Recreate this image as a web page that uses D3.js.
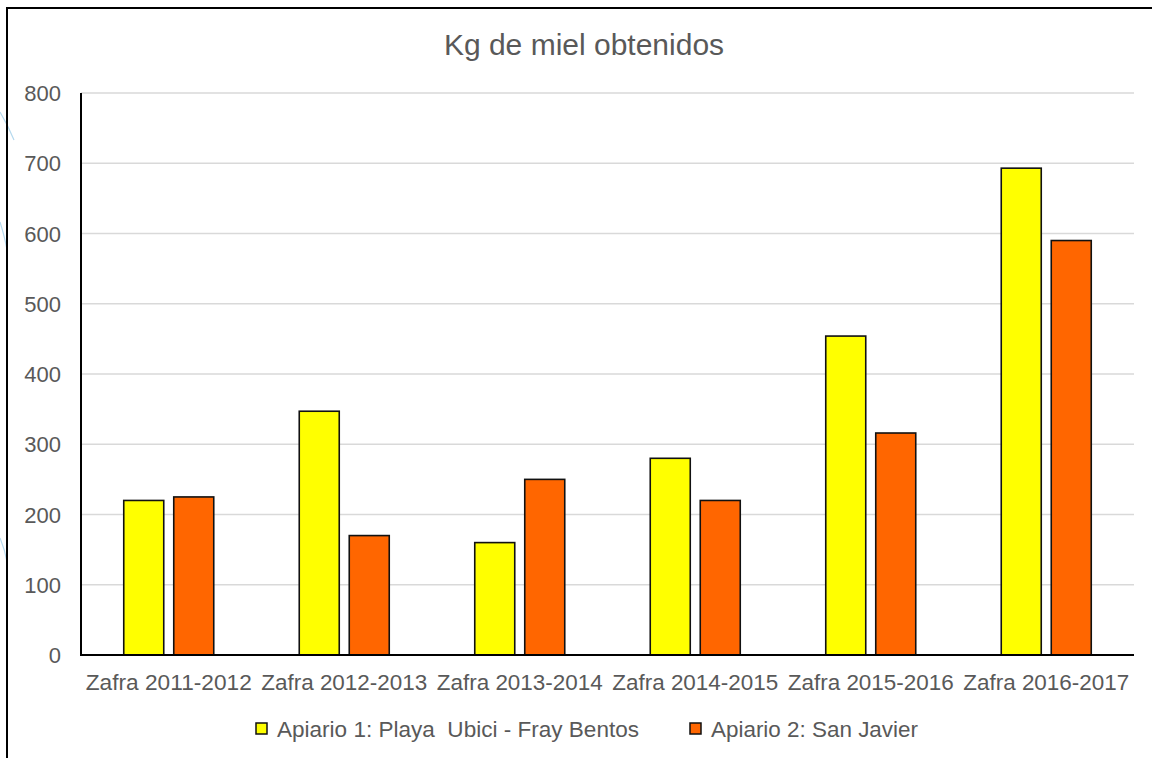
<!DOCTYPE html>
<head>
  <meta charset="utf-8">
  <script src="https://cdn.jsdelivr.net/npm/d3@7"></script>
  <style>
    body { margin: 0; background: #fff; }
    text { font-family: "Liberation Sans", Arial, sans-serif; fill: #595959; }
  </style>
</head>
<body>
<script>
  var categories = ["Zafra 2011-2012", "Zafra 2012-2013", "Zafra 2013-2014",
                    "Zafra 2014-2015", "Zafra 2015-2016", "Zafra 2016-2017"]
  var series = ["Apiario 1: Playa  Ubici - Fray Bentos", "Apiario 2: San Javier"]
  var apiario1 = [220, 347, 160, 280, 454, 693]
  var apiario2 = [225, 170, 250, 220, 316, 590]
  var yTicks = [0, 100, 200, 300, 400, 500, 600, 700, 800]
  var colors = ["#ffff00", "#ff6600"]

  var W = 1152, H = 758
  var plot = {left: 81, right: 1134, top: 93, bottom: 655}

  var svg = d3.select("body").append("svg")
              .attr("width", W).attr("height", H)

  // faint decoration on the left edge
  svg.append("path")
     .attr("d", "M0,112 Q8,125 14,140 M0,222 Q5,238 7,250 M0,538 Q5,550 7,562")
     .attr("fill", "none").attr("stroke", "#b5d9ee").attr("stroke-width", 1.2)

  svg.append("rect")
     .attr("x", 7).attr("y", 8).attr("width", W + 20).attr("height", H + 20)
     .attr("fill", "none").attr("stroke", "#000").attr("stroke-width", 2)

  var y = d3.scaleLinear().domain([0, 800]).range([plot.bottom, plot.top])
  var x0 = d3.scaleBand().domain(categories).range([plot.left, plot.right])
  var x1 = d3.scaleBand().domain(series).range([0, x0.bandwidth()])
             .paddingInner(0.2).paddingOuter(0.855)

  // gridlines
  svg.append("g").selectAll("line")
     .data(yTicks.filter(function(d) { return d > 0 }))
     .enter().append("line")
     .attr("x1", plot.left).attr("x2", plot.right)
     .attr("y1", function(d) { return y(d) }).attr("y2", function(d) { return y(d) })
     .attr("stroke", "#d9d9d9").attr("stroke-width", 1.5)

  // y labels
  svg.append("g").selectAll("text")
     .data(yTicks).enter().append("text")
     .attr("x", 61).attr("y", function(d) { return y(d) + 8 })
     .attr("text-anchor", "end").style("font-size", "22px")
     .text(function(d) { return d })

  // bars
  var rows = categories.map(function(c, i) { return {cat: c, vals: [apiario1[i], apiario2[i]]} })
  var groups = svg.append("g").selectAll("g")
     .data(rows).enter().append("g")
     .attr("transform", function(d) { return "translate(" + x0(d.cat) + ",0)" })

  groups.selectAll("rect")
     .data(function(d) { return d.vals.map(function(v, j) { return {s: series[j], v: v, j: j} }) })
     .enter().append("rect")
     .attr("x", function(d) { return x1(d.s) })
     .attr("width", x1.bandwidth())
     .attr("y", function(d) { return y(d.v) })
     .attr("height", function(d) { return y(0) - y(d.v) })
     .attr("fill", function(d) { return colors[d.j] })
     .attr("stroke", "#111").attr("stroke-width", 1.6)

  // axes lines
  svg.append("line")
     .attr("x1", plot.left).attr("x2", plot.left)
     .attr("y1", plot.top).attr("y2", plot.bottom + 1)
     .attr("stroke", "#000").attr("stroke-width", 2)
  svg.append("line")
     .attr("x1", plot.left).attr("x2", plot.right)
     .attr("y1", plot.bottom).attr("y2", plot.bottom)
     .attr("stroke", "#000").attr("stroke-width", 2)

  // x labels
  svg.append("g").selectAll("text")
     .data(categories).enter().append("text")
     .attr("x", function(d) { return x0(d) + x0.bandwidth() / 2 })
     .attr("y", 690)
     .attr("text-anchor", "middle").style("font-size", "22px")
     .attr("textLength", 166).attr("lengthAdjust", "spacingAndGlyphs")
     .text(function(d) { return d })

  // title
  svg.append("text")
     .attr("x", 584).attr("y", 55)
     .attr("text-anchor", "middle").style("font-size", "30px")
     .text("Kg de miel obtenidos")

  // legend
  var legX = [256, 690]
  var legLen = [362, 207]
  var leg = svg.append("g").selectAll("g")
     .data(series).enter().append("g")
     .attr("transform", function(d, i) { return "translate(" + legX[i] + ",723)" })
  leg.append("rect")
     .attr("x", 0).attr("y", 0).attr("width", 11).attr("height", 11)
     .attr("fill", function(d, i) { return colors[i] })
     .attr("stroke", "#111").attr("stroke-width", 1.5)
  leg.append("text")
     .attr("x", 21).attr("y", 14)
     .attr("xml:space", "preserve")
     .style("white-space", "pre")
     .style("font-size", "22px")
     .attr("textLength", function(d, i) { return legLen[i] })
     .attr("lengthAdjust", "spacingAndGlyphs")
     .text(function(d) { return d })
</script>
</body>
